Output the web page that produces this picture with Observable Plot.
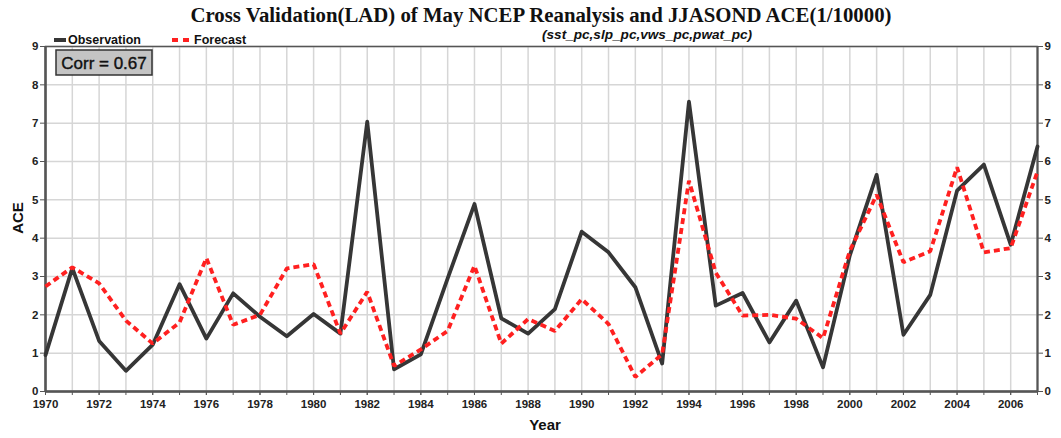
<!DOCTYPE html>
<html><head><meta charset="utf-8">
<script src="https://cdn.jsdelivr.net/npm/d3@7"></script>
<script src="https://cdn.jsdelivr.net/npm/@observablehq/plot@0.6"></script>
<style>body{margin:0;background:#fff;} #chart svg{display:block;}</style>
</head><body><div id="chart"></div>
<script>
const years = [1970,1971,1972,1973,1974,1975,1976,1977,1978,1979,1980,1981,1982,1983,1984,1985,1986,1987,1988,1989,
  1990,1991,1992,1993,1994,1995,1996,1997,1998,1999,2000,2001,2002,2003,2004,2005,2006,2007];
const observation = [0.95,3.22,1.32,0.54,1.22,2.80,1.38,2.56,1.95,1.44,2.02,1.51,7.04,0.58,0.97,2.95,4.89,1.91,1.51,2.15,
  4.17,3.63,2.72,0.73,7.56,2.24,2.57,1.28,2.37,0.63,3.55,5.65,1.48,2.52,5.24,5.92,3.83,6.39];
const forecast = [2.74,3.24,2.82,1.85,1.25,1.80,3.48,1.74,2.00,3.21,3.32,1.51,2.60,0.67,1.10,1.58,3.28,1.25,1.89,1.58,
  2.41,1.76,0.38,0.97,5.50,3.10,1.98,2.00,1.90,1.39,3.67,5.13,3.37,3.66,5.85,3.63,3.74,5.74];
const xTickLabels = [1970,1972,1974,1976,1978,1980,1982,1984,1986,1988,1990,1992,1994,1996,1998,2000,2002,2004,2006];
const yTicks = [0,1,2,3,4,5,6,7,8,9];
const title = "Cross Validation(LAD) of May NCEP Reanalysis and JJASOND ACE(1/10000)";
const subtitle = "(sst_pc,slp_pc,vws_pc,pwat_pc)";
const seriesNames = ["Observation", "Forecast"];
const corrText = "Corr = 0.67";

const data = years.map((y, i) => ({year: y, obs: observation[i], fc: forecast[i]}));
const axisColor = "#555";
const sans = "'Liberation Sans', Arial, sans-serif";

const chart = Plot.plot({
  width: 1061, height: 438,
  marginLeft: 45, marginRight: 24, marginTop: 46, marginBottom: 47,
  x: {domain: [1970, 2007]},
  y: {domain: [0, 9]},
  style: {fontFamily: sans, fontSize: "11.5px", fontWeight: "bold", color: "#222", background: "#fff", overflow: "visible"},
  marks: [
    Plot.gridX(years, {stroke: "#d6d6d6", strokeOpacity: 1, strokeWidth: 1.5}),
    Plot.gridY(yTicks, {stroke: "#d6d6d6", strokeOpacity: 1, strokeWidth: 1.5}),
    Plot.frame({stroke: axisColor, strokeWidth: 1.5}),
    Plot.axisX(years, {tickFormat: () => "", tickSize: 4, stroke: axisColor, label: null}),
    Plot.axisX(xTickLabels, {tickFormat: d => String(d), tickSize: 4, tickPadding: 4, stroke: axisColor, label: null}),
    Plot.axisY(yTicks, {anchor: "left", tickSize: 5, tickPadding: 2, stroke: axisColor, label: null}),
    Plot.axisY(yTicks, {anchor: "right", tickSize: 5, tickPadding: 2, stroke: axisColor, label: null}),
    Plot.ruleX([1970], {stroke: axisColor, strokeWidth: 2.5}),
    Plot.ruleX([2007], {stroke: axisColor, strokeWidth: 2}),
    Plot.ruleY([0], {stroke: axisColor, strokeWidth: 2.5}),
    Plot.lineY(data, {x: "year", y: "obs", stroke: "#363636", strokeWidth: 3.8}),
    Plot.lineY(data, {x: "year", y: "fc", stroke: "#ff2020", strokeWidth: 3.8, strokeDasharray: "6,4", strokeLinecap: "butt", strokeLinejoin: "miter"})
  ]
});
document.getElementById("chart").append(chart);

const svg = d3.select(chart);
// title
svg.append("text").attr("x", 541).attr("y", 22).attr("text-anchor", "middle")
  .style("font-family", "'Liberation Serif', 'Times New Roman', serif").style("font-size", "20.8px").style("font-weight", "bold").style("fill", "#111")
  .text(title);
svg.append("text").attr("x", 542).attr("y", 39).attr("text-anchor", "start")
  .style("font-family", sans).style("font-size", "13.6px").style("font-weight", "bold").style("font-style", "italic").style("fill", "#111")
  .text(subtitle);
// legend
svg.append("line").attr("x1", 54).attr("x2", 66).attr("y1", 40).attr("y2", 40).attr("stroke", "#363636").attr("stroke-width", 4);
svg.append("text").attr("x", 68).attr("y", 44).attr("text-anchor", "start").style("font-family", sans).style("font-size", "12.5px").style("font-weight", "bold").style("fill", "#111").text(seriesNames[0]);
svg.append("line").attr("x1", 172).attr("x2", 190).attr("y1", 40).attr("y2", 40).attr("stroke", "#ff2020").attr("stroke-width", 4).attr("stroke-dasharray", "6,5");
svg.append("text").attr("x", 194).attr("y", 44).attr("text-anchor", "start").style("font-family", sans).style("font-size", "12.5px").style("font-weight", "bold").style("fill", "#111").text(seriesNames[1]);
// corr box
svg.append("rect").attr("x", 56).attr("y", 50).attr("width", 96).attr("height", 25).attr("fill", "#c4c4c4").attr("stroke", "#333").attr("stroke-width", 1.5);
svg.append("text").attr("x", 104).attr("y", 69).attr("text-anchor", "middle")
  .style("font-family", sans).style("font-size", "17px").style("font-weight", "normal").style("fill", "#111").style("stroke", "#111").style("stroke-width", 0.4)
  .text(corrText);
// axis labels
svg.append("text").attr("transform", "translate(23,218) rotate(-90)").attr("text-anchor", "middle")
  .style("font-family", sans).style("font-size", "15px").style("font-weight", "bold").style("fill", "#111").text("ACE");
svg.append("text").attr("x", 545).attr("y", 430).attr("text-anchor", "middle")
  .style("font-family", sans).style("font-size", "15px").style("font-weight", "bold").style("fill", "#111").text("Year");
</script>
</body></html>
